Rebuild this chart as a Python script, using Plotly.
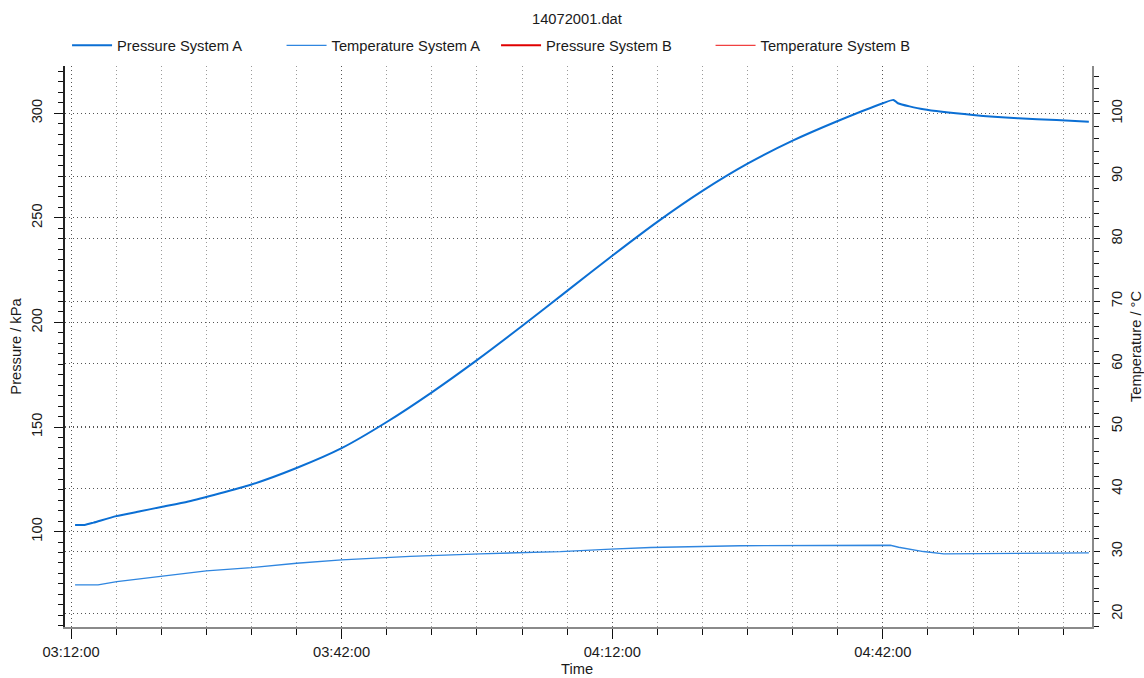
import plotly.graph_objects as go

# Logged channels of 14072001.dat
DAY = "2014-07-20 "

press_a_time = ["03:12:27", "03:13:30", "03:14:30", "03:17:00", "03:19:40", "03:22:00",
                "03:25:00", "03:32:00", "03:37:00", "03:42:00", "03:47:00", "03:52:00",
                "03:57:00", "04:02:00", "04:07:00", "04:12:00", "04:17:00", "04:22:00",
                "04:27:00", "04:32:00", "04:37:00", "04:42:00", "04:43:10", "04:43:40",
                "04:46:30", "04:52:00", "04:57:00", "05:01:15", "05:04:50"]
press_a_kpa = [103.2, 103.2, 104.3, 107.4, 109.7, 111.8,
               114.4, 122.5, 130.4, 139.9, 152.4, 166.6,
               182.0, 198.3, 215.1, 231.9, 248.1, 262.9,
               275.9, 286.9, 296.3, 304.8, 306.4, 304.8,
               301.9, 299.2, 297.6, 296.8, 296.0]

temp_a_time = ["03:12:27", "03:15:00", "03:17:05", "03:21:50", "03:27:00", "03:32:00",
               "03:37:00", "03:42:00", "03:49:35", "03:57:20", "04:06:15", "04:11:50",
               "04:16:15", "04:26:10", "04:37:15", "04:42:50", "04:43:45", "04:46:30",
               "04:48:45", "04:55:45", "05:04:50"]
temp_a_degc = [24.64, 24.64, 25.16, 25.96, 26.87, 27.40,
               28.10, 28.63, 29.20, 29.60, 29.95, 30.35,
               30.60, 30.90, 31.00, 30.98, 30.66, 29.96,
               29.59, 29.70, 29.75]

# System B channels carry no samples in this file
press_b_time, press_b_kpa = [None], [None]
temp_b_time, temp_b_degc = [None], [None]

x_range = [DAY + "03:11:20", DAY + "05:05:11"]
press_range = [54.4, 322.6]
temp_range = [17.9, 107.6]

FONT = "Arial, Liberation Sans, sans-serif"
TXT = "#1a1a1a"
FS = 14.7

fig = go.Figure()
fig.add_trace(go.Scatter(x=[DAY + t for t in press_a_time], y=press_a_kpa,
                         name="Pressure System A", mode="lines",
                         line=dict(color="#0b6fd4", width=2, shape="spline",
                                   smoothing=0.6)))
fig.add_trace(go.Scatter(x=[DAY + t for t in temp_a_time], y=temp_a_degc,
                         name="Temperature System A", mode="lines", yaxis="y2",
                         line=dict(color="#2f86e0", width=1.4)))
fig.add_trace(go.Scatter(x=press_b_time, y=press_b_kpa, name="Pressure System B",
                         mode="lines", line=dict(color="#e00000", width=2)))
fig.add_trace(go.Scatter(x=temp_b_time, y=temp_b_degc, name="Temperature System B",
                         mode="lines", yaxis="y2", line=dict(color="#f04040", width=1.2)))

DOT = "1px,3px"
grid = dict(griddash=DOT, gridcolor="#555555", gridwidth=1)
t0 = DAY + "03:12:00"

fig.update_layout(
    width=1144, height=678,
    margin=dict(l=65, r=52, t=66, b=51),
    paper_bgcolor="white", plot_bgcolor="white",
    font=dict(family=FONT, size=FS, color=TXT),
    title=dict(text="14072001.dat", x=0.4985, xref="paper", y=1 - 19 / 678,
               yref="container", yanchor="middle", xanchor="center",
               font=dict(size=FS, color=TXT)),
    showlegend=True,
    legend=dict(orientation="h", x=0.002, xanchor="left", y=1.036, yanchor="middle",
                itemwidth=40, entrywidth=159.5, font=dict(size=FS, color=TXT),
                bgcolor="rgba(0,0,0,0)", tracegroupgap=0),
    annotations=[dict(text="Time", xref="paper", yref="paper", x=0.4985,
                      y=-(669 - 627) / 561, xanchor="center", yanchor="middle",
                      showarrow=False, font=dict(size=FS, color=TXT))],
    xaxis=dict(range=x_range, type="date", tick0=t0, dtick=1800000, automargin=False,
               tickformat="%H:%M:%S", ticks="outside", ticklen=10, tickcolor="#111",
               showline=True, linecolor="#8a8a8a", linewidth=2,
               showgrid=True, **grid, zeroline=False,
               minor=dict(dtick=300000, tick0=t0, ticks="outside", ticklen=6,
                          tickcolor="#111", showgrid=True, griddash=DOT,
                          gridcolor="#9a9a9a")),
    xaxis2=dict(range=x_range, type="date", overlaying="x", anchor="y", side="bottom",
                automargin=False,
                tick0=t0, dtick=1800000, ticks="inside", ticklen=9, tickcolor="#111",
                showticklabels=False, showgrid=False, showline=False, zeroline=False,
                minor=dict(dtick=300000, tick0=t0, ticks="inside", ticklen=5,
                           tickcolor="#111", showgrid=False)),
    xaxis3=dict(range=x_range, type="date", overlaying="x", anchor="y", side="top",
                automargin=False,
                tick0=t0, dtick=300000, ticks="inside", ticklen=6, tickcolor="#111",
                showticklabels=False, showgrid=False, showline=True,
                linecolor="#111", linewidth=1.5, zeroline=False),
    yaxis=dict(range=press_range, tick0=0, dtick=50, tickangle=-90, automargin=False,
               ticks="outside", ticklen=9, tickcolor="#111",
               showline=True, linecolor="#222", linewidth=1.5,
               showgrid=True, **grid, zeroline=False,
               minor=dict(dtick=5, tick0=0, ticks="outside", ticklen=5,
                          tickcolor="#111", showgrid=False),
               ticklabelstandoff=6,
               title=dict(text="Pressure / kPa", standoff=4, font=dict(size=FS))),
    yaxis3=dict(range=press_range, overlaying="y", anchor="x", side="left",
                automargin=False,
                tick0=0, dtick=50, ticks="inside", ticklen=6, tickcolor="#111",
                showticklabels=False, showgrid=False, showline=False, zeroline=False,
                minor=dict(dtick=5, tick0=0, ticks="inside", ticklen=5,
                           tickcolor="#111", showgrid=False)),
    yaxis2=dict(range=temp_range, overlaying="y", side="right", anchor="x",
                automargin=False,
                tick0=0, dtick=10, tickangle=-90,
                ticks="outside", ticklen=6, tickcolor="#111",
                showline=True, linecolor="#8a8a8a", linewidth=2,
                showgrid=True, **grid, zeroline=False,
                minor=dict(dtick=2, tick0=0, ticks="outside", ticklen=5,
                           tickcolor="#111", showgrid=False),
                ticklabelstandoff=4,
                title=dict(text="Temperature / °C", standoff=10, font=dict(size=FS))),
    yaxis4=dict(range=temp_range, overlaying="y", anchor="x", side="right",
                automargin=False,
                tick0=0, dtick=10, ticks="inside", ticklen=6, tickcolor="#111",
                showticklabels=False, showgrid=False, showline=False, zeroline=False,
                minor=dict(dtick=2, tick0=0, ticks="inside", ticklen=5,
                           tickcolor="#111", showgrid=False)),
)

fig.write_html("out.html")
